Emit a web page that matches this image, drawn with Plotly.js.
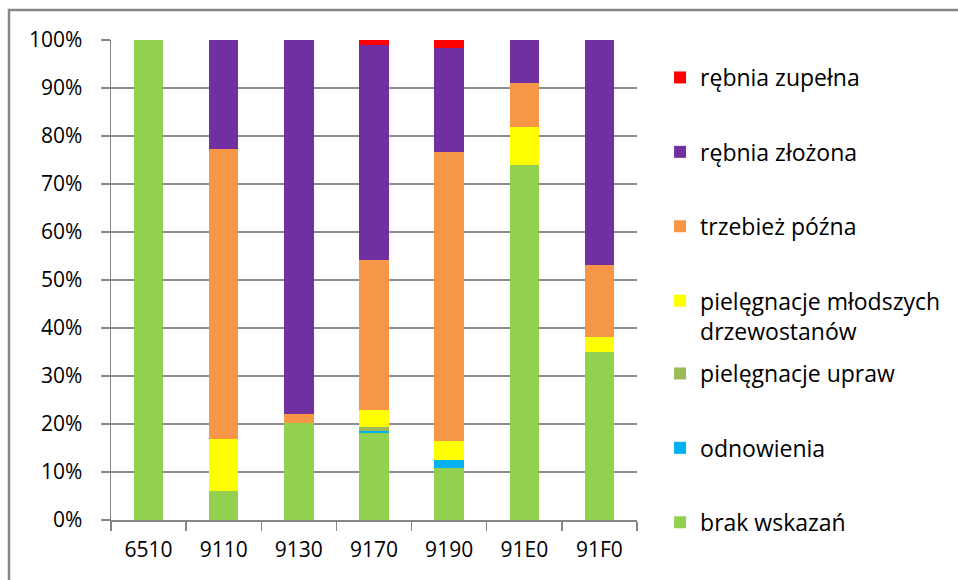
<!DOCTYPE html>
<html>
<head>
<meta charset="utf-8">
<script src="https://cdn.plot.ly/plotly-3.0.1.min.js"></script>
<style>html,body{margin:0;padding:0;background:#fff;}#chart{width:958px;height:580px;}</style>
</head>
<body>
<div id="chart"></div>
<script>
const categories = ['6510', '9110', '9130', '9170', '9190', '91E0', '91F0'];
const brakWskazan = [100, 6.1, 20.3, 18.1, 10.8, 74.0, 35.0];
const odnowienia = [0, 0, 0, 0.5, 1.7, 0, 0];
const pielegnacjeUpraw = [0, 0, 0, 0.8, 0, 0, 0];
const pielegnacjeMlodszych = [0, 10.8, 0, 3.5, 3.9, 7.9, 3.2];
const trzebiezPozna = [0, 60.3, 1.8, 31.3, 60.3, 9.1, 14.9];
const rebniaZlozona = [0, 22.8, 77.9, 44.8, 21.7, 9.0, 46.9];
const rebniaZupelna = [0, 0, 0, 1.0, 1.6, 0, 0];
const yTicks = [0, 10, 20, 30, 40, 50, 60, 70, 80, 90, 100];

const FONT = 'Open Sans, Liberation Sans, sans-serif';
const series = [
  {name: 'brak wskazań', y: brakWskazan, color: '#92D050', legend: 'legend2'},
  {name: 'odnowienia', y: odnowienia, color: '#00B0F0', legend: 'legend2'},
  {name: 'pielęgnacje upraw', y: pielegnacjeUpraw, color: '#9BBB59', legend: 'legend2'},
  {name: 'pielęgnacje młodszych<br>drzewostanów', y: pielegnacjeMlodszych, color: '#FFFF00', legend: 'legend'},
  {name: 'trzebież późna', y: trzebiezPozna, color: '#F79646', legend: 'legend'},
  {name: 'rębnia złożona', y: rebniaZlozona, color: '#7030A0', legend: 'legend'},
  {name: 'rębnia zupełna', y: rebniaZupelna, color: '#FF0000', legend: 'legend'}
];

const data = series.map((s, i) => ({
  type: 'bar',
  x: categories,
  y: s.y,
  name: s.name,
  legend: s.legend,
  legendgroup: 'g' + i,
  legendrank: 1000 - i,
  marker: {color: s.color, line: {width: 0}},
  hoverinfo: 'x+y+name'
}));

const legendCommon = {
  xref: 'container', yref: 'container',
  xanchor: 'left', yanchor: 'top',
  traceorder: 'grouped',
  tracegroupgap: 41.5,
  valign: 'top',
  bgcolor: 'rgba(0,0,0,0)',
  font: {family: FONT, size: 23, color: '#000'}
};

const layout = {
  width: 958, height: 580,
  margin: {l: 111, r: 321, t: 40, b: 60},
  paper_bgcolor: '#fff', plot_bgcolor: '#fff',
  barmode: 'stack',
  bargap: 0.607,
  font: {family: FONT, size: 21, color: '#000'},
  showlegend: true,
  legend: Object.assign({}, legendCommon, {x: 0.689, y: 1 - 56/580}),
  legend2: Object.assign({}, legendCommon, {x: 0.689, y: 1 - 352/580}),
  xaxis: {
    type: 'category',
    tickson: 'boundaries',
    ticks: 'outside', ticklen: 9, tickcolor: '#868686', tickwidth: 1.5,
    showline: true, linecolor: '#868686', linewidth: 1.5,
    showgrid: false,
    ticklabelstandoff: 10,
    tickfont: {family: FONT, size: 21, color: '#000'}
  },
  yaxis: {
    range: [0, 100],
    tickvals: yTicks,
    ticktext: yTicks.map(v => v + '%'),
    ticks: 'outside', ticklen: 9, tickcolor: '#868686', tickwidth: 1.5,
    showline: true, linecolor: '#868686', linewidth: 1.5,
    showgrid: true, gridcolor: '#8C8C8C', gridwidth: 1.5,
    zeroline: false,
    ticklabelstandoff: 14,
    tickfont: {family: FONT, size: 21, color: '#000'}
  },
  shapes: [{
    type: 'rect', xref: 'paper', yref: 'paper',
    x0: (9 - 111) / 526, x1: (990 - 111) / 526,
    y0: (520 - 600) / 480, y1: 1 + 30 / 480,
    line: {color: '#868686', width: 2.5},
    fillcolor: 'rgba(0,0,0,0)',
    layer: 'below'
  }]
};

Plotly.newPlot('chart', data, layout, {displayModeBar: false, staticPlot: true});
</script>
</body>
</html>
